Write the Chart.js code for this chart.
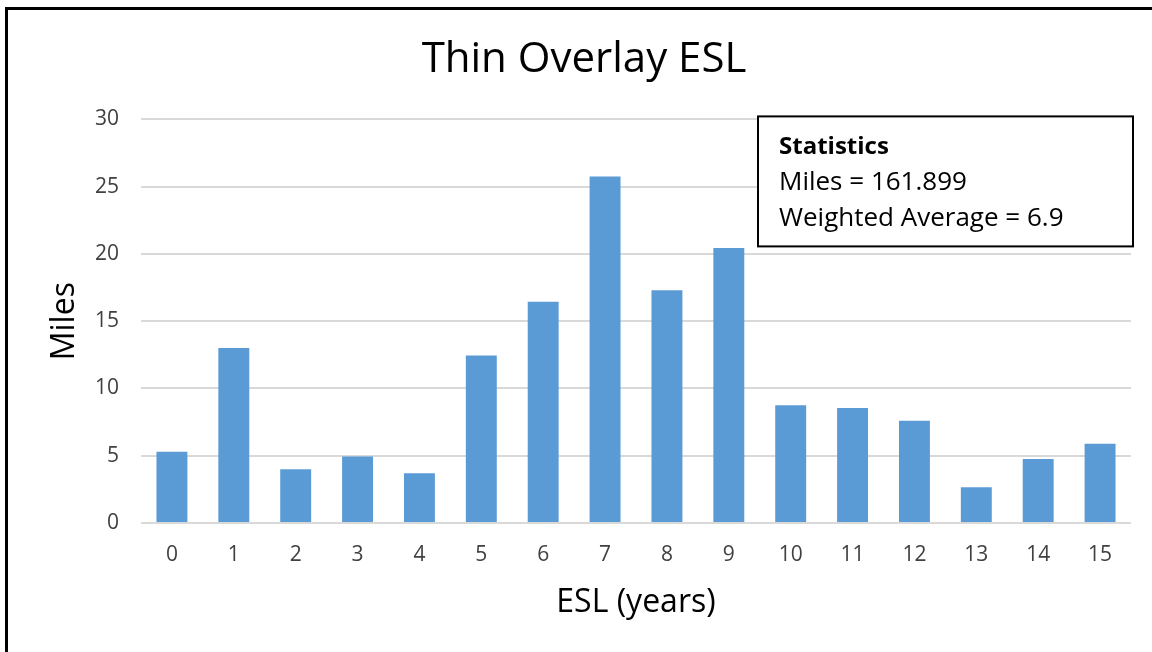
<!DOCTYPE html>
<html>
<head>
<meta charset="utf-8">
<title>Thin Overlay ESL</title>
<script src="https://cdn.jsdelivr.net/npm/chart.js@4.4.1/dist/chart.umd.min.js"></script>
<style>
  html, body { margin: 0; padding: 0; background: #fff; overflow: hidden; width: 1152px; height: 652px; }
  #frame { position: absolute; left: 5px; top: 7px; width: 1170px; height: 680px;
           border-left: 3px solid #000; border-top: 3px solid #000; background: #fff; }
  #chart { position: absolute; left: 0; top: 0; }
</style>
</head>
<body>
<div id="frame">
  <canvas id="chart" width="1152" height="642"></canvas>
</div>
<script>
// data
const eslYears = ['0','1','2','3','4','5','6','7','8','9','10','11','12','13','14','15'];
const miles = [5.3, 13.0, 4.0, 4.95, 3.7, 12.45, 16.45, 25.75, 17.3, 20.45, 8.75, 8.55, 7.6, 2.65, 4.75, 5.9];
const yMax = 30;
const yStep = 5;

// text of the statistics box
const statTitle = 'Statistics';
const statMiles = '161.899';
const statAvg = '6.9';

Chart.defaults.font.family = "'Open Sans', sans-serif";

// box with the statistics, drawn over the grid
const statsBox = {
  id: 'statsBox',
  afterDraw(chart) {
    const ctx = chart.ctx;
    const area = chart.chartArea;
    const w = 375, h = 130;
    const x = area.right + 2 - w;
    const y = area.top - 3;
    ctx.save();
    ctx.fillStyle = '#fff';
    ctx.fillRect(x, y, w, h);
    ctx.lineWidth = 2;
    ctx.strokeStyle = '#000';
    ctx.strokeRect(x, y, w, h);
    ctx.fillStyle = '#000';
    ctx.textBaseline = 'alphabetic';
    ctx.textAlign = 'left';
    ctx.font = "bold 24px 'Open Sans', sans-serif";
    ctx.fillText(statTitle, x + 21, y + 38);
    ctx.font = "26px 'Open Sans', sans-serif";
    ctx.fillText('Miles = ' + statMiles, x + 21, y + 74);
    ctx.fillText('Weighted Average = ' + statAvg, x + 21, y + 110);
    ctx.restore();
  }
};

const config = {
  type: 'bar',
  data: {
    labels: eslYears,
    datasets: [{
      label: 'Miles',
      data: miles,
      backgroundColor: '#5B9BD5',
      borderWidth: 0,
      categoryPercentage: 1.0,
      barPercentage: 0.5
    }]
  },
  options: {
    responsive: false,
    animation: false,
    layout: { padding: { left: 0, right: 0, top: 0, bottom: 30 } },
    plugins: {
      legend: { display: false },
      tooltip: { enabled: false },
      title: {
        display: true,
        text: 'Thin Overlay ESL',
        color: '#000',
        font: { size: 42, weight: 'normal' },
        padding: { top: 25, bottom: 34 }
      }
    },
    scales: {
      x: {
        grid: { display: false, drawTicks: false },
        border: { display: false },
        ticks: { color: '#404040', font: { size: 21 }, padding: 19 },
        title: {
          display: true,
          text: 'ESL (years)',
          color: '#000',
          font: { size: 32 },
          padding: { top: 0, bottom: 0 }
        },
        afterFit(scale) { scale.height = 99; }
      },
      y: {
        min: 0,
        max: yMax,
        grid: { color: '#d9d9d9', lineWidth: 2, drawTicks: false },
        border: { display: false },
        ticks: { stepSize: yStep, color: '#404040', font: { size: 21 }, padding: 22 },
        title: {
          display: true,
          text: 'Miles',
          color: '#000',
          font: { size: 32 },
          padding: { top: 38, bottom: 0 }
        },
        afterFit(scale) { scale.width = 133; }
      },
      // empty axis on the right, only to keep room there
      yRight: {
        position: 'right',
        grid: { display: false, drawTicks: false },
        border: { display: false },
        ticks: { display: false },
        afterFit(scale) { scale.width = 29; }
      }
    }
  },
  plugins: [statsBox]
};

const myChart = new Chart(document.getElementById('chart'), config);
</script>
</body>
</html>
